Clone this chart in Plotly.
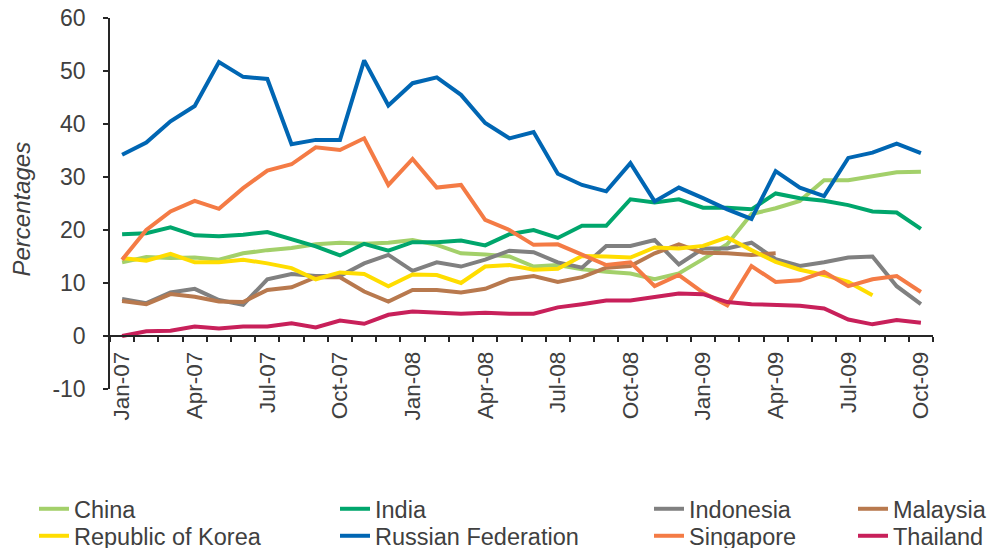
import plotly.graph_objects as go

MONTHS = [
    "Jan-07", "Feb-07", "Mar-07", "Apr-07", "May-07", "Jun-07", "Jul-07", "Aug-07",
    "Sep-07", "Oct-07", "Nov-07", "Dec-07", "Jan-08", "Feb-08", "Mar-08", "Apr-08",
    "May-08", "Jun-08", "Jul-08", "Aug-08", "Sep-08", "Oct-08", "Nov-08", "Dec-08",
    "Jan-09", "Feb-09", "Mar-09", "Apr-09", "May-09", "Jun-09", "Jul-09", "Aug-09",
    "Sep-09", "Oct-09",
]
Y_TICKS = [-10, 0, 10, 20, 30, 40, 50, 60]

china = [13.9, 14.9, 14.7, 14.8, 14.4, 15.6, 16.2, 16.6, 17.3, 17.6, 17.4, 17.6,
         18.1, 17.2, 15.6, 15.4, 15.0, 13.1, 13.4, 12.6, 12.1, 11.8, 10.7, 11.8,
         14.5, 17.3, 23.0, 24.1, 25.5, 29.4, 29.4, 30.2, 30.9, 31.0]
india = [19.2, 19.4, 20.5, 19.0, 18.8, 19.1, 19.6, 18.3, 16.9, 15.2, 17.4, 16.1,
         17.7, 17.7, 18.0, 17.1, 19.2, 20.0, 18.5, 20.8, 20.8, 25.8, 25.2, 25.8,
         24.2, 24.2, 23.9, 26.9, 26.0, 25.5, 24.7, 23.5, 23.3, 20.2]
indonesia = [7.0, 6.2, 8.2, 8.9, 6.8, 5.9, 10.7, 11.7, 11.3, 11.3, 13.7, 15.3,
             12.3, 13.9, 13.1, 14.4, 16.1, 15.8, 13.9, 12.9, 17.0, 17.0, 18.1, 13.5,
             16.5, 16.5, 17.6, 14.5, 13.2, 13.9, 14.8, 15.0, 9.4, 6.0]
malaysia = [6.6, 6.0, 7.9, 7.4, 6.5, 6.4, 8.7, 9.2, 11.1, 11.1, 8.4, 6.5,
            8.7, 8.7, 8.2, 8.9, 10.7, 11.3, 10.2, 11.1, 12.9, 13.2, 15.6, 17.3,
            15.7, 15.6, 15.3, 15.6, None, None, None, None, None, None]
korea = [14.7, 14.2, 15.5, 13.9, 13.9, 14.4, 13.7, 12.8, 10.7, 12.0, 11.7, 9.4,
         11.6, 11.5, 10.0, 13.1, 13.4, 12.5, 12.7, 15.1, 15.0, 14.8, 16.7, 16.5,
         17.0, 18.6, 16.2, 14.0, 12.5, 11.5, 10.2, 7.7, None, None]
russia = [34.2, 36.5, 40.5, 43.4, 51.7, 48.9, 48.5, 36.2, 37.0, 37.0, 52.0, 43.5,
          47.7, 48.8, 45.5, 40.2, 37.3, 38.5, 30.6, 28.5, 27.3, 32.6, 25.4, 28.0,
          26.0, 23.9, 22.1, 31.1, 28.0, 26.4, 33.6, 34.6, 36.3, 34.5]
singapore = [14.4, 20.0, 23.5, 25.5, 24.0, 27.9, 31.2, 32.4, 35.6, 35.1, 37.3, 28.5,
             33.4, 28.0, 28.5, 21.9, 20.0, 17.2, 17.3, 15.4, 13.4, 13.9, 9.4, 11.5,
             8.2, 5.8, 13.2, 10.2, 10.5, 12.1, 9.4, 10.7, 11.3, 8.3]
thailand = [0.0, 0.9, 1.0, 1.8, 1.4, 1.8, 1.8, 2.4, 1.6, 2.9, 2.3, 4.0,
            4.6, 4.4, 4.2, 4.4, 4.2, 4.2, 5.4, 6.0, 6.7, 6.7, 7.4, 8.0,
            7.9, 6.4, 6.0, 5.9, 5.7, 5.2, 3.1, 2.2, 3.0, 2.5]

# (name, values, colour, legend column, legend row)
SERIES = [
    ("China", china, "#A3D06A", 0, 0),
    ("India", india, "#00A66C", 1, 0),
    ("Indonesia", indonesia, "#808080", 2, 0),
    ("Malaysia", malaysia, "#B8794E", 3, 0),
    ("Republic of Korea", korea, "#FFDD00", 0, 1),
    ("Russian Federation", russia, "#0066B3", 1, 1),
    ("Singapore", singapore, "#F47B45", 2, 1),
    ("Thailand", thailand, "#C8205A", 3, 1),
]

FONT = "Liberation Sans, Arial, sans-serif"
TEXT = "#404040"
AXIS = "#262626"

# the page puts the figure 8px in from the corner; the div is made a bit
# wider than the window so the last legend column is not clipped
W, H = 1010, 540

x_idx = list(range(len(MONTHS)))
col_x = [26, 327, 641, 845]
row_y = [479, 506]

fig = go.Figure()
legends = {}
for i, (name, values, color, col, row) in enumerate(SERIES):
    key = "legend" if i == 0 else f"legend{i + 1}"
    fig.add_trace(
        go.Scatter(
            x=x_idx,
            y=values,
            mode="lines",
            name=name,
            line={"color": color, "width": 4},
            legend=key,
            showlegend=True,
        )
    )
    legends[key] = {
        "xref": "container",
        "yref": "container",
        "xanchor": "left",
        "yanchor": "top",
        "x": col_x[col] / W,
        "y": 1 - row_y[row] / H,
        "font": {"family": FONT, "size": 23.5, "color": TEXT},
        "bgcolor": "rgba(0,0,0,0)",
    }

fig.update_layout(
    width=W,
    height=H,
    showlegend=True,
    plot_bgcolor="white",
    paper_bgcolor="white",
    margin={"l": 102, "r": W - 925, "t": 10, "b": 158.5, "autoexpand": False},
    font={"family": FONT, "size": 22, "color": TEXT},
    **legends,
)

fig.add_annotation(
    text="<i>Percentages</i>",
    xref="paper",
    yref="paper",
    x=-0.108,
    y=0.484,
    xanchor="center",
    yanchor="middle",
    textangle=-90,
    showarrow=False,
    font={"family": FONT, "size": 24, "color": TEXT},
)

fig.update_xaxes(
    range=[-0.5, len(MONTHS) - 0.5],
    anchor="free",
    position=10 / 70,
    automargin=False,
    tickmode="array",
    tickvals=x_idx[::3],
    ticktext=MONTHS[::3],
    tickangle=-90,
    ticks="",
    ticklabelstandoff=6,
    ticklabeloverflow="allow",
    minor={
        "tickvals": [i - 0.5 for i in range(len(MONTHS) + 1)],
        "ticks": "outside",
        "ticklen": 5,
        "tickcolor": AXIS,
        "tickwidth": 1.5,
        "showgrid": False,
    },
    showline=True,
    linecolor=AXIS,
    linewidth=1.5,
    showgrid=False,
    zeroline=False,
    tickfont={"family": FONT, "size": 22.5, "color": TEXT},
)

fig.update_yaxes(
    range=[-10, 60],
    tickmode="array",
    tickvals=Y_TICKS,
    ticktext=[str(v) for v in Y_TICKS],
    automargin=False,
    ticks="outside",
    ticklen=5,
    tickcolor=AXIS,
    tickwidth=1.5,
    showline=True,
    linecolor=AXIS,
    linewidth=1.5,
    showgrid=False,
    zeroline=False,
    ticklabelstandoff=13,
    ticklabeloverflow="allow",
    tickfont={"family": FONT, "size": 23, "color": TEXT},
)

fig.write_html("out.html")
